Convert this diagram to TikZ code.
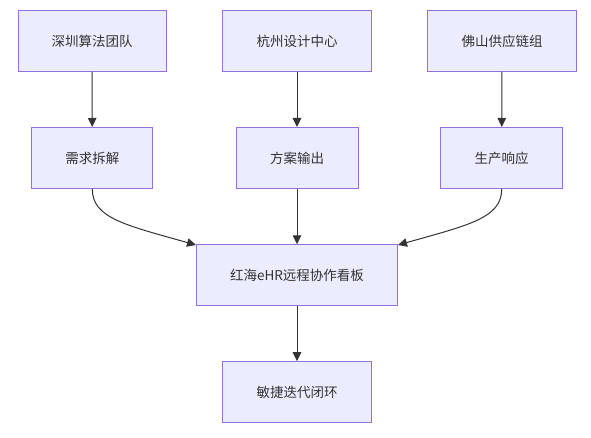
\documentclass[tikz,border=0pt]{standalone}
\usepackage{fontspec}
\setmainfont{Noto Sans CJK SC}
\usetikzlibrary{arrows.meta}
\definecolor{nodefill}{HTML}{ECECFF}
\definecolor{nodeline}{HTML}{9370DB}
\definecolor{txt}{HTML}{333333}
\tikzset{
  box/.style={draw=nodeline, fill=nodefill, line width=1pt, text=txt,
    font=\fontsize{13.5}{16}\selectfont, inner sep=0pt, minimum height=61pt},
  conn/.style={draw=txt, line width=1pt, -{Triangle[length=9pt,width=8.5pt]}}
}
\begin{document}
\begin{tikzpicture}[x=1pt,y=-1pt]
\useasboundingbox (0,0) rectangle (591,438);
\node[box, minimum width=148pt] (sz) at (92,41) {深圳算法团队};
\node[box, minimum width=149pt] (hz) at (297,41) {杭州设计中心};
\node[box, minimum width=149pt] (fs) at (502,41) {佛山供应链组};
\node[box, minimum width=121pt] (xq) at (92.3,158) {需求拆解};
\node[box, minimum width=122pt] (fa) at (297,158) {方案输出};
\node[box, minimum width=122pt] (sc) at (501.7,158) {生产响应};
\node[box, minimum width=201pt] (hh) at (297,275.3) {红海eHR远程协作看板};
\node[box, minimum width=149pt] (mj) at (297,392.2) {敏捷迭代闭环};
\draw[conn] (sz) -- (xq);
\draw[conn] (hz) -- (fa);
\draw[conn] (fs) -- (sc);
\draw[conn] (fa) -- (hh);
\draw[conn] (hh) -- (mj);
\coordinate (hl) at (196,245);
\coordinate (hr) at (398,245);
\draw[conn] (xq.south) .. controls (92.3,218) and (125,225) .. (hl);
\draw[conn] (sc.south) .. controls (501.7,218) and (469,225) .. (hr);
\end{tikzpicture}
\end{document}
